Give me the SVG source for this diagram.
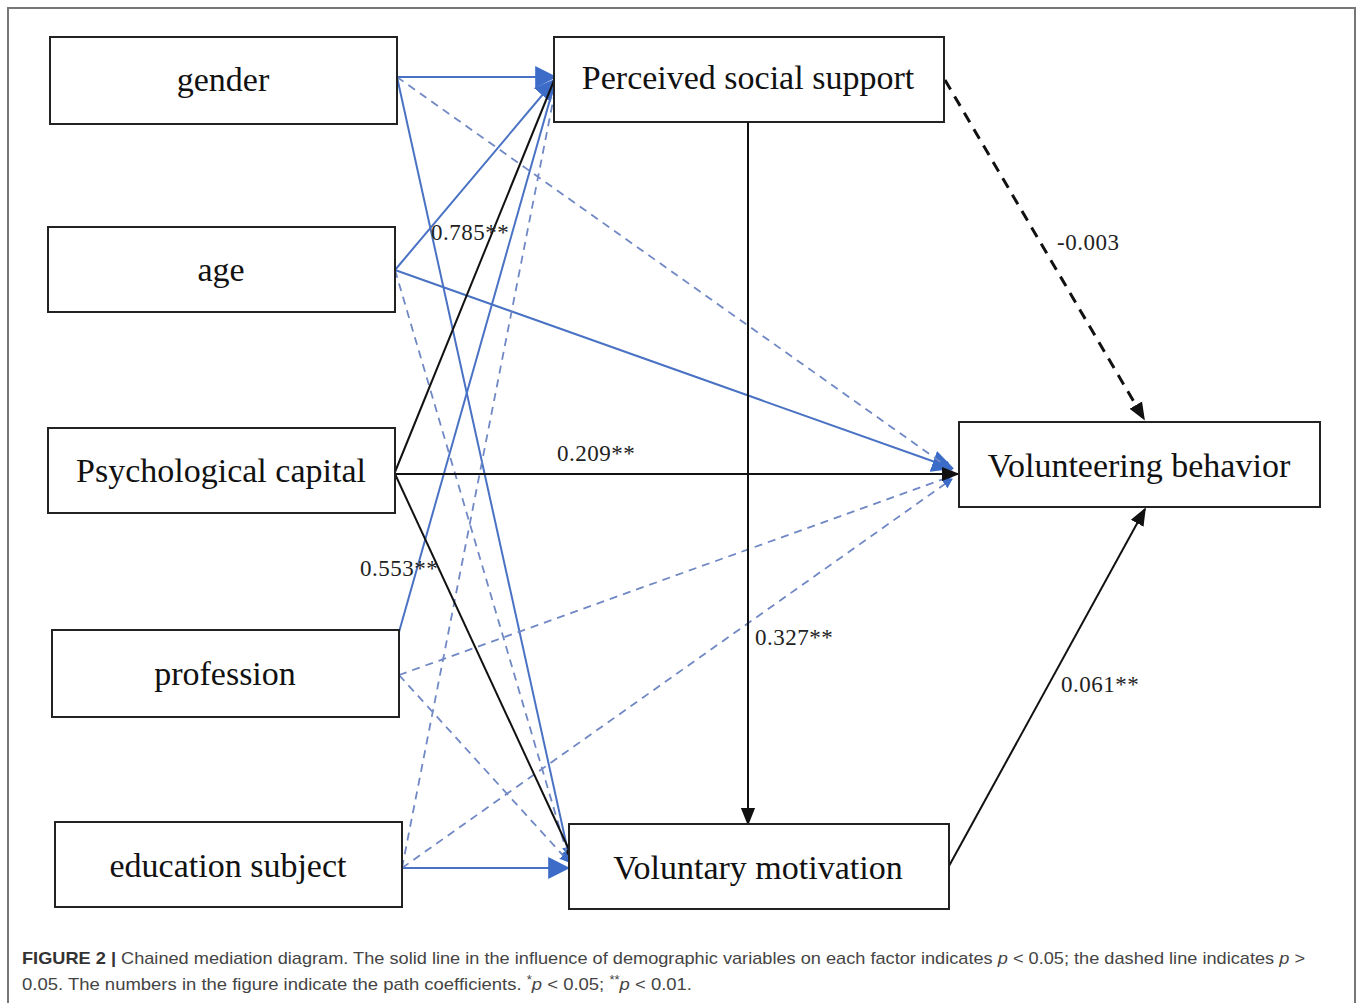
<svg xmlns="http://www.w3.org/2000/svg" width="1358" height="1003" viewBox="0 0 1358 1003">
<style>
.box{fill:#fff;stroke:#222;stroke-width:2}
.lbl{font-family:"Liberation Serif","Times New Roman",serif;font-size:34px;fill:#111;text-anchor:middle}
.num{font-family:"Liberation Serif","Times New Roman",serif;font-size:23px;fill:#222;letter-spacing:0.5px}
.bs{stroke:#4a72c4;stroke-width:2;fill:none}
.bd{stroke:#7088c4;stroke-width:1.8;fill:none;stroke-dasharray:8 6}
.k{stroke:#111;stroke-width:2;fill:none}
.kd{stroke:#111;stroke-width:3;fill:none;stroke-dasharray:11 8}
.cap{font-family:"Liberation Sans",Arial,sans-serif;font-size:17px;fill:#444}
</style>
<defs>
<marker id="ab" viewBox="0 0 10 10" refX="9" refY="5" markerWidth="10" markerHeight="10" markerUnits="userSpaceOnUse" orient="auto"><path d="M0,0 L10,5 L0,10 z" fill="#3d6cc8"/></marker>
<marker id="abL" viewBox="0 0 10 10" refX="9" refY="5" markerWidth="22" markerHeight="22" markerUnits="userSpaceOnUse" orient="auto"><path d="M0,0 L10,5 L0,10 z" fill="#3d6cc8"/></marker>
<marker id="ak" viewBox="0 0 10 10" refX="9" refY="5" markerWidth="18" markerHeight="18" markerUnits="userSpaceOnUse" orient="auto"><path d="M0,1 L10,5 L0,9 z" fill="#111"/></marker>
</defs>
<rect x="0" y="0" width="1358" height="1003" fill="#fff"/>
<rect x="8" y="8" width="1347" height="1010" fill="none" stroke="#777" stroke-width="2"/>

<g id="connectors">
<line class="bs" x1="397" y1="77" x2="555" y2="77" marker-end="url(#abL)"/>
<line class="bs" x1="397" y1="77" x2="569" y2="856" marker-end="url(#ab)"/>
<line class="bs" x1="395" y1="270" x2="555" y2="80" marker-end="url(#abL)"/>
<line class="bs" x1="395" y1="270" x2="952" y2="468" marker-end="url(#abL)"/>
<line class="bs" x1="399" y1="632" x2="555" y2="82" marker-end="url(#ab)"/>
<line class="bs" x1="402" y1="868" x2="568" y2="868" marker-end="url(#abL)"/>
<line class="bd" x1="397" y1="77" x2="952" y2="470" marker-end="url(#ab)"/>
<line class="bd" x1="395" y1="270" x2="569" y2="860" marker-end="url(#ab)"/>
<line class="bd" x1="399" y1="675" x2="952" y2="476" marker-end="url(#ab)"/>
<line class="bd" x1="399" y1="675" x2="569" y2="862" marker-end="url(#ab)"/>
<line class="bd" x1="402" y1="868" x2="556" y2="86" marker-end="url(#ab)"/>
<line class="bd" x1="402" y1="868" x2="952" y2="479" marker-end="url(#ab)"/>
<line class="k" x1="395" y1="472" x2="555" y2="78"/>
<line class="k" x1="395" y1="474" x2="958" y2="474" marker-end="url(#ak)"/>
<line class="k" x1="395" y1="474" x2="571" y2="854"/>
<circle cx="570" cy="852" r="3.5" fill="#111"/>
<line class="k" x1="748" y1="122" x2="748" y2="824" marker-end="url(#ak)"/>
<line class="k" x1="949" y1="866" x2="1145" y2="509" marker-end="url(#ak)"/>
<line class="kd" x1="945" y1="80" x2="1144" y2="419" marker-end="url(#ak)"/>
<text class="num" x="431" y="240">0.785**</text>
<text class="num" x="557" y="461">0.209**</text>
<text class="num" x="360" y="576">0.553**</text>
<text class="num" x="1057" y="250">-0.003</text>
<text class="num" x="755" y="645">0.327**</text>
<text class="num" x="1061" y="692">0.061**</text>
</g>

<g id="gender"><rect class="box" x="50" y="37" width="347" height="87"/><text class="lbl" x="223" y="91">gender</text></g>
<g id="age"><rect class="box" x="48" y="227" width="347" height="85"/><text class="lbl" x="221" y="281">age</text></g>
<g id="psycap"><rect class="box" x="48" y="428" width="347" height="85"/><text class="lbl" x="221" y="482">Psychological capital</text></g>
<g id="profession"><rect class="box" x="52" y="630" width="347" height="87"/><text class="lbl" x="225" y="685">profession</text></g>
<g id="education"><rect class="box" x="55" y="822" width="347" height="85"/><text class="lbl" x="228" y="877">education subject</text></g>
<g id="pss"><rect class="box" x="554" y="37" width="390" height="85"/><text class="lbl" x="748" y="89">Perceived social support</text></g>
<g id="vb"><rect class="box" x="959" y="422" width="361" height="85"/><text class="lbl" x="1139" y="477">Volunteering behavior</text></g>
<g id="vm"><rect class="box" x="569" y="824" width="380" height="85"/><text class="lbl" x="758" y="879">Voluntary motivation</text></g>

<g id="caption">
<text class="cap" x="22" y="964" textLength="1283" lengthAdjust="spacingAndGlyphs"><tspan font-weight="bold" fill="#333">FIGURE 2 |</tspan> Chained mediation diagram. The solid line in the influence of demographic variables on each factor indicates <tspan font-style="italic">p</tspan> &lt; 0.05; the dashed line indicates <tspan font-style="italic">p</tspan> &gt;</text>
<text class="cap" x="22" y="990" textLength="670" lengthAdjust="spacingAndGlyphs">0.05. The numbers in the figure indicate the path coefficients. <tspan font-size="12" dy="-6">*</tspan><tspan font-style="italic" dy="6">p</tspan> &lt; 0.05; <tspan font-size="12" dy="-6">**</tspan><tspan font-style="italic" dy="6">p</tspan> &lt; 0.01.</text>
</g>
</svg>
